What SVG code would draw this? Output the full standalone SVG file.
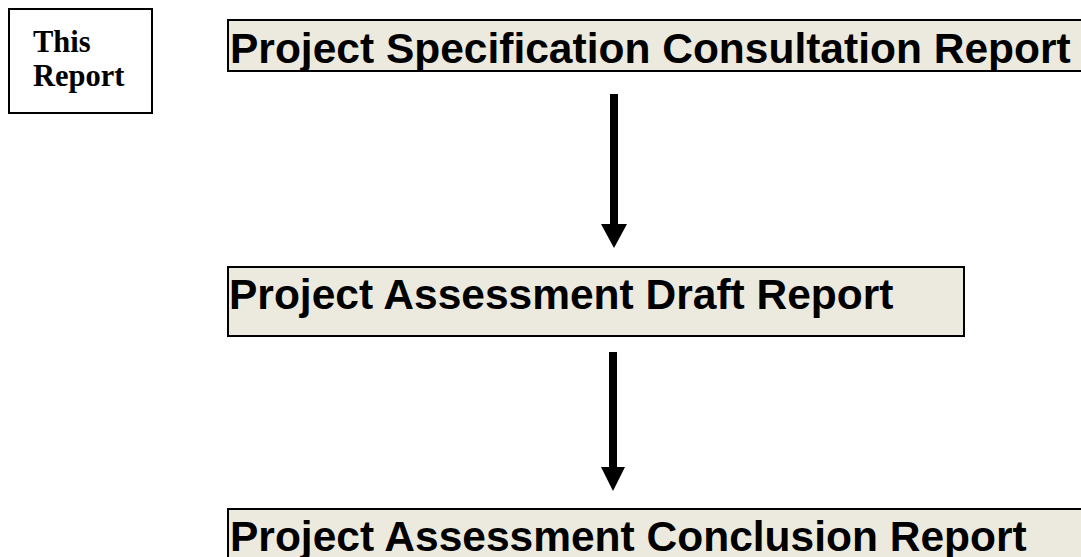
<svg xmlns="http://www.w3.org/2000/svg" width="1081" height="557" viewBox="0 0 1081 557">
  <style>
    .box { fill: #ECEADF; stroke: #000; stroke-width: 2; }
    .note { fill: #fff; stroke: #000; stroke-width: 2; }
    .lbl { font-family: "Liberation Sans", Arial, sans-serif; font-weight: bold; font-size: 42.5px; fill: #000; }
    .nt { font-family: "Liberation Serif", "Times New Roman", serif; font-weight: bold; font-size: 30.5px; fill: #000; }
    .arrow { fill: #000; stroke: none; }
  </style>
  <rect width="1081" height="557" fill="#fff"/>
  <g id="this-report">
    <rect class="note" x="9" y="9" width="143" height="104"/>
    <text class="nt" x="33" y="52">This</text>
    <text class="nt" x="33" y="86">Report</text>
  </g>
  <g id="spec-report">
    <rect class="box" x="228" y="20" width="860" height="51"/>
    <text class="lbl" x="230" y="63">Project Specification Consultation Report</text>
  </g>
  <g id="draft-report">
    <rect class="box" x="228" y="267" width="736" height="69"/>
    <text class="lbl" x="229" y="309">Project Assessment Draft Report</text>
  </g>
  <g id="conclusion-report">
    <rect class="box" x="228" y="509" width="860" height="60"/>
    <text class="lbl" x="230" y="551">Project Assessment Conclusion Report</text>
  </g>
  <g id="connectors">
    <polygon class="arrow" points="610,94 618,94 618,224 627,224 614,248 601,224 610,224"/>
    <polygon class="arrow" points="609,352 617,352 617,467 625,467 613,491 601,467 609,467"/>
  </g>
</svg>
